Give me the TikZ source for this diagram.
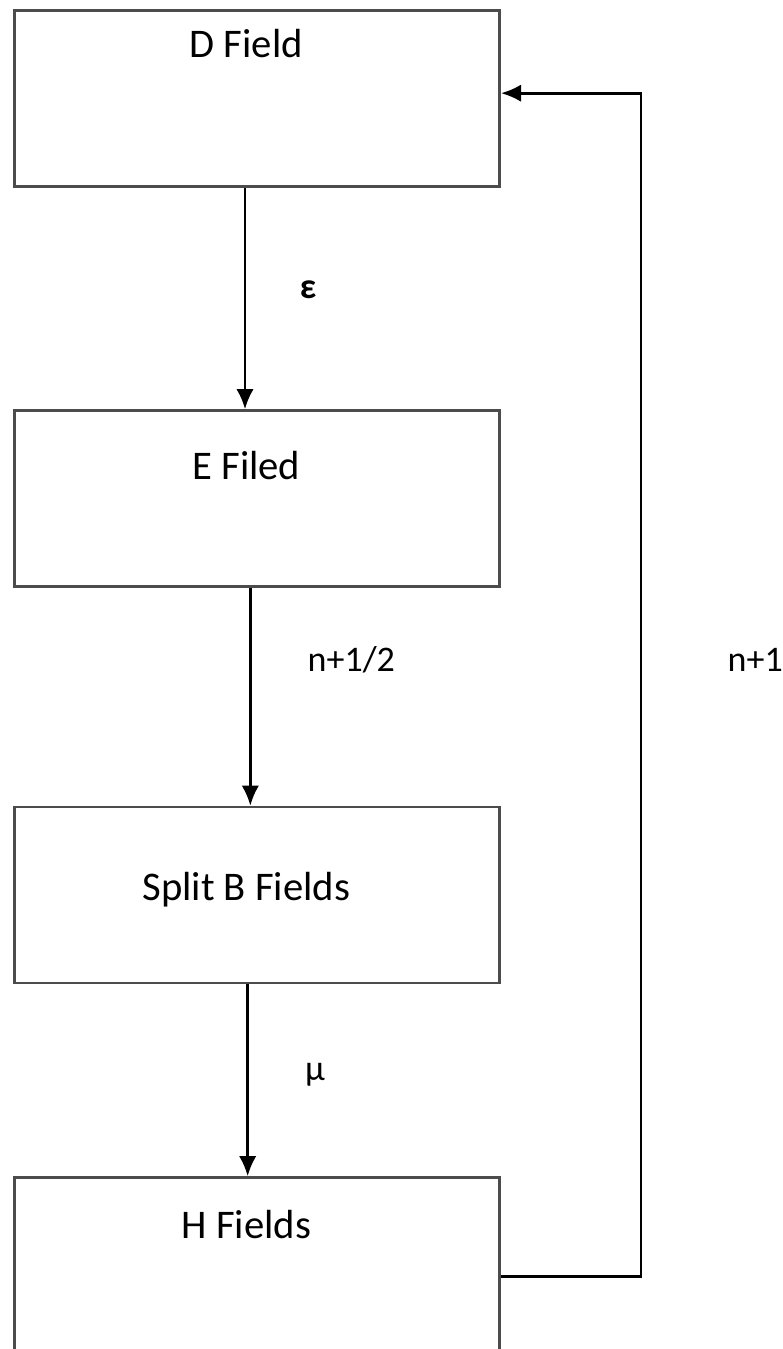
\documentclass[tikz,border=0pt]{standalone}
\usepackage{fontspec}
\setmainfont{Carlito}
\usetikzlibrary{positioning, arrows.meta}
\tikzstyle{arrow} = [line width=2pt,-{Latex[length=15pt,width=13pt]}]

\begin{document}
\begin{tikzpicture}[x=0.75pt,y=-0.75pt]
                    \tikzstyle{every node}=[font=\fontsize{27}{32}\selectfont]
                    \tikzstyle{every label}=[font=\fontsize{30.5}{36}\selectfont, anchor=center, xshift=-8pt]
                    \tikzstyle{field} = [rectangle, draw=black!70, line width=2pt, minimum width=364pt, minimum height=132pt, inner sep=0pt]
                    \tikzstyle{hidden} = [draw=none]

                    \useasboundingbox (0,0) rectangle (782,1349);

                    % the four update stages
                    \node[field, label={[yshift=-26pt]north:D Field}](dfield) at (257,98.5) {};
                    \node[field, label={[yshift=-42pt]north:E Filed}](efield) at (257,498.5) {};
                    \node[field, label={[yshift=4pt]center:Split B Fields}](bfield) at (257,895) {};
                    \node[field, label={[yshift=-36pt]north:H Fields}](hfield) at (257,1265.5) {};

                    \draw[arrow] ([xshift=-9pt]dfield.south) -- ([xshift=-9pt]efield.north);
                    \draw[arrow] ([xshift=-5pt]efield.south) -- ([xshift=-5pt]bfield.north);
                    \draw[arrow] ([xshift=-7pt]bfield.south) -- ([xshift=-7pt]hfield.north);

                    % loop back to the next time step
                    \draw[arrow] ([yshift=-8pt]hfield.east) -- ++(140,0) |- ([yshift=4pt]dfield.east);

                    \node[hidden](eps) at (308,290) {\textbf{ε}};
                    \node[hidden, anchor=west](half) at (303,660) {n+1/2};
                    \node[hidden, anchor=west](next) at (723,660) {n+1};
                    \node[hidden](mu) at (315,1075) {μ};
            \end{tikzpicture}
\end{document}
